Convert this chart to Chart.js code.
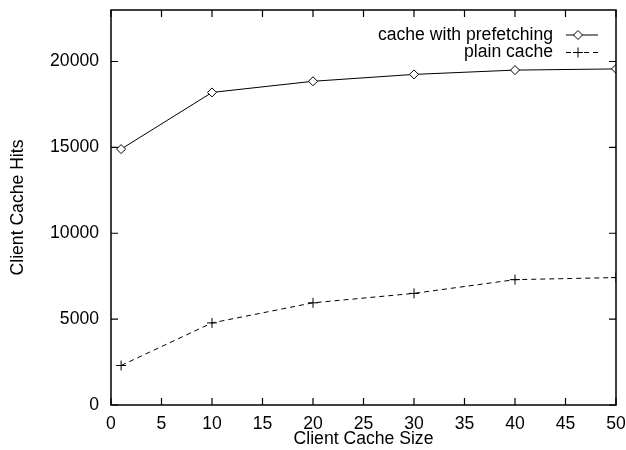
<!DOCTYPE html>
<html>
<head>
<meta charset="utf-8">
<script src="https://cdn.jsdelivr.net/npm/chart.js@4/dist/chart.umd.min.js"></script>
<style>
  html, body { margin: 0; padding: 0; background: #fff; }
  #wrap { width: 626px; height: 450px; }
</style>
</head>
<body>
<div id="wrap"><canvas id="chart"></canvas></div>
<script>
// cache sizes on x axis
const cacheSizes = [1, 10, 20, 30, 40, 50];
// hits
const prefetchHits = [14900, 18200, 18850, 19250, 19500, 19570];
const plainHits = [2300, 4780, 5950, 6500, 7300, 7420];

const xTicks = [0, 5, 10, 15, 20, 25, 30, 35, 40, 45, 50];
const yTicks = [0, 5000, 10000, 15000, 20000];

const seriesNames = ["cache with prefetching", "plain cache"];

const FONT = "'Liberation Sans', Arial, sans-serif";
const FS = 17.6;

// gnuplot-ish frame: box border, inward ticks mirrored, legend top right
const gnuplotFrame = {
    id: 'gnuplotFrame',
    afterDraw(chart) {
        const ctx = chart.ctx;
        const a = chart.chartArea;
        const xs = chart.scales.x;
        const ys = chart.scales.y;
        const tl = 7;

        ctx.save();
        ctx.strokeStyle = '#000';
        ctx.lineWidth = 1.5;
        ctx.strokeRect(a.left, a.top, a.right - a.left, a.bottom - a.top);

        ctx.lineWidth = 1.2;
        ctx.beginPath();
        xTicks.forEach(v => {
            let px = xs.getPixelForValue(v);
            ctx.moveTo(px, a.bottom); ctx.lineTo(px, a.bottom - tl);
            ctx.moveTo(px, a.top); ctx.lineTo(px, a.top + tl);
        });
        yTicks.forEach(v => {
            let py = ys.getPixelForValue(v);
            ctx.moveTo(a.left, py); ctx.lineTo(a.left + tl, py);
            ctx.moveTo(a.right, py); ctx.lineTo(a.right - tl, py);
        });
        ctx.stroke();

        // legend
        ctx.font = FS + 'px ' + FONT;
        ctx.fillStyle = '#000';
        ctx.textAlign = 'right';
        ctx.textBaseline = 'middle';
        const textRight = 553;
        const sx0 = 566, sx1 = 598;
        chart.data.datasets.forEach((ds, i) => {
            const y = 35 + i * 17.5;
            ctx.fillText(ds.label, textRight, y);
            ctx.save();
            ctx.lineWidth = 1;
            ctx.setLineDash(ds.borderDash || []);
            ctx.beginPath();
            ctx.moveTo(sx0, y); ctx.lineTo(sx1, y);
            ctx.stroke();
            ctx.restore();
            ctx.save();
            ctx.fillStyle = '#fff';
            ctx.strokeStyle = '#000';
            ctx.lineWidth = 1;
            Chart.helpers.drawPoint(ctx, {
                pointStyle: ds.pointStyle,
                radius: ds.pointRadius,
                borderWidth: 1
            }, 578, y);
            ctx.restore();
        });
        ctx.restore();
    }
};

const main_ctx = document.getElementById('chart');

new Chart(main_ctx, {
    type: 'line',
    data: {
        datasets: [
            {
                label: seriesNames[0],
                data: cacheSizes.map((x, i) => ({x: x, y: prefetchHits[i]})),
                borderColor: '#000',
                borderWidth: 1,
                pointStyle: 'rectRot',
                pointRadius: 4.5,
                pointBorderColor: '#000',
                pointBackgroundColor: '#fff',
                pointBorderWidth: 1,
                tension: 0
            },
            {
                label: seriesNames[1],
                data: cacheSizes.map((x, i) => ({x: x, y: plainHits[i]})),
                borderColor: '#000',
                borderWidth: 1,
                borderDash: [5, 4],
                pointStyle: 'cross',
                pointRadius: 5,
                pointBorderColor: '#000',
                pointBorderWidth: 1,
                tension: 0
            }
        ]
    },
    options: {
        responsive: true,
        maintainAspectRatio: false,
        animation: false,
        layout: { padding: { top: 10, right: 10, left: 0, bottom: 0 } },
        plugins: {
            legend: { display: false },
            tooltip: { enabled: false }
        },
        scales: {
            x: {
                type: 'linear',
                min: 0,
                max: 50,
                afterBuildTicks: s => { s.ticks = xTicks.map(v => ({value: v})); },
                afterFit: s => { s.height = 45; s.paddingLeft = 0; s.paddingRight = 0; },
                grid: { display: false, drawTicks: false },
                border: { display: false },
                ticks: {
                    padding: 9,
                    color: '#000',
                    maxRotation: 0,
                    font: { size: FS, family: FONT }
                },
                title: {
                    display: true,
                    text: 'Client Cache Size',
                    color: '#000',
                    padding: { top: 0, bottom: 0 },
                    font: { size: FS, family: FONT }
                }
            },
            y: {
                min: 0,
                max: 23000,
                afterBuildTicks: s => { s.ticks = yTicks.map(v => ({value: v})); },
                afterFit: s => { s.width = 111; s.paddingTop = 0; s.paddingBottom = 0; },
                grid: { display: false, drawTicks: false },
                border: { display: false },
                ticks: {
                    padding: 12,
                    color: '#000',
                    font: { size: FS, family: FONT },
                    callback: v => String(v)
                },
                title: {
                    display: true,
                    text: 'Client Cache Hits',
                    color: '#000',
                    padding: { top: 8, bottom: 0 },
                    font: { size: FS, family: FONT }
                }
            }
        }
    },
    plugins: [gnuplotFrame]
});
</script>
</body>
</html>
